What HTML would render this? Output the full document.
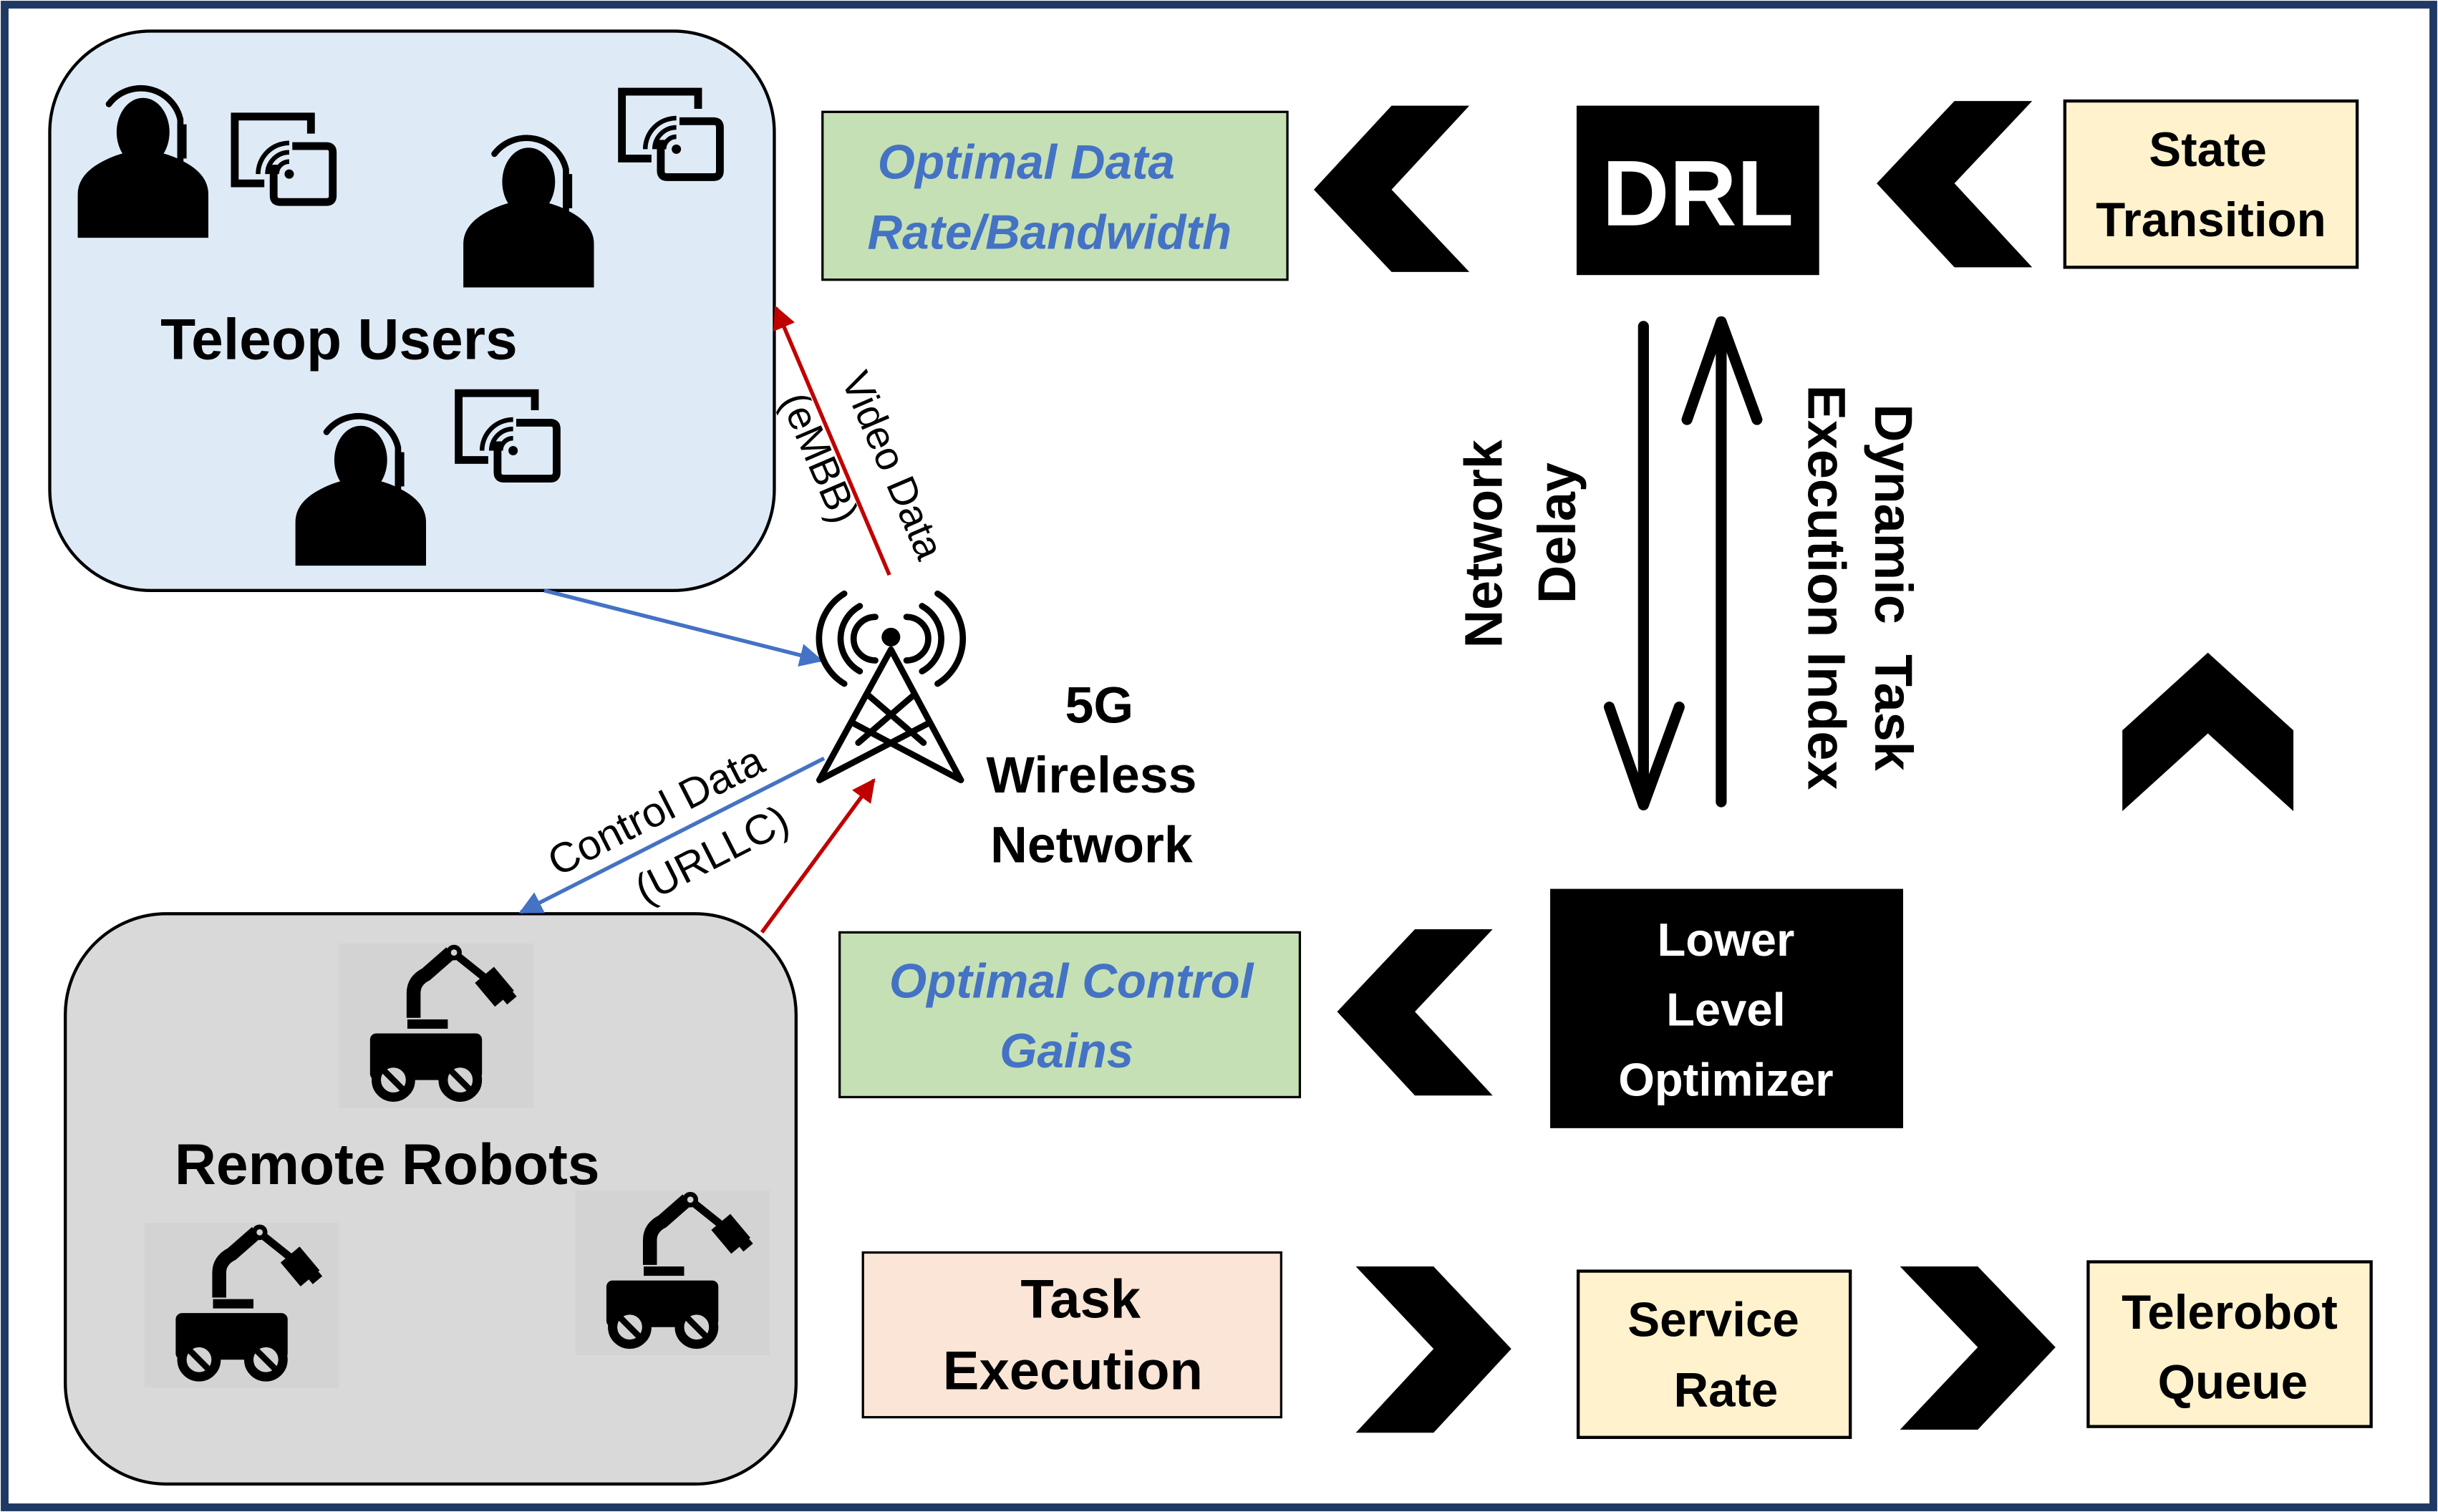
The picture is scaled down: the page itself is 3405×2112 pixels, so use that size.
<!DOCTYPE html>
<html><head><meta charset="utf-8"><style>
html,body{margin:0;padding:0;background:#fff;}
svg{display:block;}
text{font-family:"Liberation Sans",sans-serif;}
</style></head><body>
<svg width="3405" height="2112" viewBox="0 0 1568 973" preserveAspectRatio="none" xmlns="http://www.w3.org/2000/svg">
<defs>
<g id="person">
  <ellipse cx="0" cy="0" rx="17" ry="22" fill="#000"/>
  <path d="M -22 -18 A 26 26 0 0 1 24 -8 L 24 20 L 0 30" fill="none" stroke="#000" stroke-width="4" stroke-linecap="round"/>
  <rect x="22" y="-5" width="6" height="22" fill="#000"/>
  <circle cx="0" cy="30" r="3" fill="#000"/>
  <path d="M -42 70 L -42 42 Q -42 30 -28 22 Q -14 14 0 14 Q 14 14 28 22 Q 42 30 42 42 L 42 70 Z" fill="#000" transform="translate(0,-2)"/>
</g>
<g id="screen">
  <path d="M 52 14 V 3 H 3 V 46 H 22" fill="none" stroke="#000" stroke-width="5"/>
  <path d="M 40 22 H 62 Q 66 22 66 26 V 54 Q 66 58 62 58 H 32 Q 28 58 28 54 V 34" fill="none" stroke="#000" stroke-width="5"/>
  <circle cx="38" cy="40" r="3" fill="#000"/>
  <path d="M 30 40 A 8 8 0 0 1 38 32 M 24 40 A 14 14 0 0 1 38 26 M 18 40 A 20 20 0 0 1 38 20" fill="none" stroke="#000" stroke-width="3"/>
</g>
<g id="robot">
  <rect x="0" y="0" width="125" height="106" fill="#d3d3d3"/>
  <rect x="20" y="58" width="72" height="30" rx="4" fill="#000"/>
  <rect x="44" y="49" width="26" height="6" fill="#000"/>
  <path d="M 48 48 V 32 Q 48 24 56 20 L 72 6" fill="none" stroke="#000" stroke-width="9"/>
  <circle cx="74" cy="6" r="5" fill="#000"/><circle cx="74" cy="6" r="2" fill="#d3d3d3"/>
  <line x1="76" y1="8" x2="96" y2="24" stroke="#000" stroke-width="5"/>
  <rect x="92" y="18" width="16" height="20" fill="#000" transform="rotate(-40 100 28)"/>
  <rect x="104" y="28" width="8" height="10" fill="#000" transform="rotate(-40 108 33)"/>
  <circle cx="35" cy="88" r="11" fill="#d3d3d3" stroke="#000" stroke-width="6"/>
  <line x1="28" y1="81" x2="42" y2="95" stroke="#000" stroke-width="4"/>
  <circle cx="78" cy="88" r="11" fill="#d3d3d3" stroke="#000" stroke-width="6"/>
  <line x1="71" y1="81" x2="85" y2="95" stroke="#000" stroke-width="4"/>
</g>
<marker id="ab" viewBox="0 0 10 10" refX="9" refY="5" markerWidth="6" markerHeight="6" orient="auto"><path d="M0 0 L10 5 L0 10 z" fill="#4472c4"/></marker>
<marker id="ar" viewBox="0 0 10 10" refX="9" refY="5" markerWidth="6" markerHeight="6" orient="auto"><path d="M0 0 L10 5 L0 10 z" fill="#c00000"/></marker>
</defs>

<rect x="3" y="3" width="1562" height="967" fill="#fff" stroke="#1f3864" stroke-width="5"/>

<rect x="32" y="20" width="466" height="360" rx="65" fill="#deebf7" stroke="#000" stroke-width="2"/>
<use href="#person" x="92" y="85"/>
<use href="#screen" x="148" y="72"/>
<use href="#person" x="340" y="117"/>
<use href="#screen" x="397" y="56"/>
<use href="#person" x="232" y="296"/>
<use href="#screen" x="292" y="250"/>
<text x="218" y="231" font-size="37" font-weight="bold" text-anchor="middle">Teleop Users</text>

<rect x="42" y="588" width="470" height="367" rx="65" fill="#d9d9d9" stroke="#000" stroke-width="2"/>
<use href="#robot" x="218" y="607"/>
<use href="#robot" x="93" y="787"/>
<use href="#robot" x="370" y="766"/>
<text x="249" y="762" font-size="37" font-weight="bold" text-anchor="middle">Remote Robots</text>

<line x1="572" y1="370" x2="499" y2="198" stroke="#c00000" stroke-width="2.5" marker-end="url(#ar)"/>
<line x1="350" y1="380" x2="528" y2="425" stroke="#4472c4" stroke-width="2.5" marker-end="url(#ab)"/>
<line x1="530" y1="488" x2="335" y2="587" stroke="#4472c4" stroke-width="2.5" marker-end="url(#ab)"/>
<line x1="490" y1="600" x2="562" y2="502" stroke="#c00000" stroke-width="2.5" marker-end="url(#ar)"/>
<text transform="translate(566,303) rotate(66.8)" font-size="26" text-anchor="middle">Video Data</text>
<text transform="translate(519,298) rotate(66.8)" font-size="26" text-anchor="middle">(eMBB)</text>
<text transform="translate(426,530) rotate(-27)" font-size="27" text-anchor="middle">Control  Data</text>
<text transform="translate(462,558) rotate(-27)" font-size="27" text-anchor="middle">(URLLC)</text>

<g fill="none" stroke="#000" stroke-width="4" stroke-linecap="round">
  <path d="M 573 418 L 527 502 M 573 418 L 618 502"/>
  <path d="M 558 447 L 594 478 M 588 447 L 552 478"/>
  <path d="M 548 465 L 618 502 M 598 465 L 527 502"/>
  <path d="M 563 397 A 14 14 0 0 0 563 425 M 583 397 A 14 14 0 0 1 583 425"/>
  <path d="M 553 390 A 24 24 0 0 0 553 432 M 593 390 A 24 24 0 0 1 593 432"/>
  <path d="M 543 382 A 34 34 0 0 0 543 440 M 603 382 A 34 34 0 0 1 603 440"/>
</g>
<circle cx="573" cy="410" r="6" fill="#000"/>
<text x="707" y="465" font-size="33" font-weight="bold" text-anchor="middle">5G</text>
<text x="702" y="510" font-size="33" font-weight="bold" text-anchor="middle">Wireless</text>
<text x="702" y="555" font-size="33" font-weight="bold" text-anchor="middle">Network</text>

<rect x="529" y="72" width="299" height="108" fill="#c5e0b4" stroke="#000" stroke-width="1.5"/>
<text x="660" y="115" font-size="31" font-weight="bold" font-style="italic" fill="#4472c4" text-anchor="middle">Optimal Data</text>
<text x="675" y="160" font-size="31" font-weight="bold" font-style="italic" fill="#4472c4" text-anchor="middle">Rate/Bandwidth</text>
<polygon points="895,68 945,68 895,122 945,175 895,175 845,122" fill="#000"/>
<rect x="1014" y="68" width="156" height="109" fill="#000"/>
<text x="1092" y="145" font-size="60" font-weight="bold" fill="#fff" text-anchor="middle">DRL</text>
<polygon points="1257,65 1307,65 1257,118 1307,172 1257,172 1207,118" fill="#000"/>
<rect x="1328" y="65" width="188" height="107" fill="#fff2cc" stroke="#000" stroke-width="2"/>
<text x="1420" y="107" font-size="31" font-weight="bold" text-anchor="middle">State</text>
<text x="1422" y="152" font-size="31" font-weight="bold" text-anchor="middle">Transition</text>

<g fill="none" stroke="#000" stroke-width="7" stroke-linecap="round" stroke-linejoin="round">
  <line x1="1057" y1="210" x2="1057" y2="516"/>
  <path d="M 1035 455 L 1057 518 L 1080 455"/>
  <line x1="1107" y1="516" x2="1107" y2="210"/>
  <path d="M 1085 270 L 1107 207 L 1130 270"/>
</g>
<text transform="translate(966,350) rotate(-90)" font-size="34" font-weight="bold" text-anchor="middle">Network</text>
<text transform="translate(1013,343) rotate(-90)" font-size="34" font-weight="bold" text-anchor="middle">Delay</text>
<text transform="translate(1206,378) rotate(90)" font-size="34" font-weight="bold" text-anchor="middle" word-spacing="10">Dynamic Task</text>
<text transform="translate(1163,378) rotate(90)" font-size="34" font-weight="bold" text-anchor="middle">Execution Index</text>

<polygon points="1365,470 1420,420 1475,470 1475,522 1420,472 1365,522" fill="#000"/>

<rect x="997" y="572" width="227" height="154" fill="#000"/>
<text x="1110" y="615" font-size="30" font-weight="bold" fill="#fff" text-anchor="middle">Lower</text>
<text x="1110" y="660" font-size="30" font-weight="bold" fill="#fff" text-anchor="middle">Level</text>
<text x="1110" y="705" font-size="30" font-weight="bold" fill="#fff" text-anchor="middle">Optimizer</text>
<polygon points="910,598 960,598 910,651 960,705 910,705 860,651" fill="#000"/>
<rect x="540" y="600" width="296" height="106" fill="#c5e0b4" stroke="#000" stroke-width="1.5"/>
<text x="689" y="642" font-size="31" font-weight="bold" font-style="italic" fill="#4472c4" text-anchor="middle">Optimal Control</text>
<text x="686" y="687" font-size="31" font-weight="bold" font-style="italic" fill="#4472c4" text-anchor="middle">Gains</text>

<rect x="555" y="806" width="269" height="106" fill="#fbe5d6" stroke="#000" stroke-width="1.5"/>
<text x="695" y="848" font-size="35" font-weight="bold" text-anchor="middle">Task</text>
<text x="690" y="894" font-size="35" font-weight="bold" text-anchor="middle">Execution</text>
<polygon points="872,815 922,815 972,868 922,922 872,922 922,868" fill="#000"/>
<rect x="1015" y="818" width="175" height="107" fill="#fff2cc" stroke="#000" stroke-width="2"/>
<text x="1102" y="860" font-size="31" font-weight="bold" text-anchor="middle">Service</text>
<text x="1110" y="905" font-size="31" font-weight="bold" text-anchor="middle">Rate</text>
<polygon points="1222,815 1272,815 1322,867 1272,920 1222,920 1272,867" fill="#000"/>
<rect x="1343" y="812" width="182" height="106" fill="#fff2cc" stroke="#000" stroke-width="2"/>
<text x="1434" y="855" font-size="31" font-weight="bold" text-anchor="middle">Telerobot</text>
<text x="1436" y="900" font-size="31" font-weight="bold" text-anchor="middle">Queue</text>
</svg>
</body></html>
